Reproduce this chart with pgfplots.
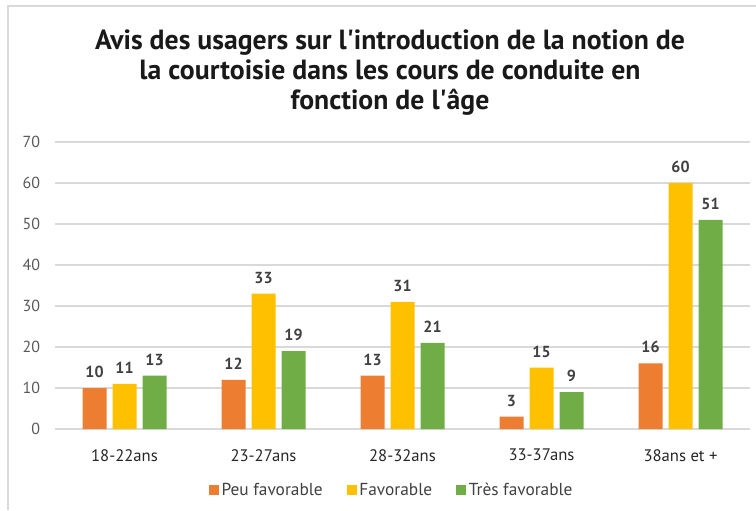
\documentclass[border=0pt]{standalone}
\usepackage{pgfplots}
\pgfplotsset{compat=1.18}
\usepackage{fontspec}
\setmainfont{PT Sans}
\definecolor{cOrange}{HTML}{ED7D31}
\definecolor{cGold}{HTML}{FFC000}
\definecolor{cGreen}{HTML}{70AD47}
\definecolor{gridgray}{HTML}{D9D9D9}
\definecolor{tickgray}{HTML}{595959}
\definecolor{labgray}{HTML}{404040}

\begin{document}
\begin{tikzpicture}[x=0.75pt,y=0.75pt]
\path[use as bounding box] (0,0) rectangle (756,510);
% chart frame (left and top edges visible)
\draw[gray!30, line width=0.9pt] (8,0) -- (8,504) -- (756,504);
\node[align=center, font=\bfseries\fontsize{20.8}{22.5}\selectfont, text=black!90] at (390,437)
  {Avis des usagers sur l\textquotesingle introduction de la notion de\\
   la courtoisie dans les cours de conduite en\\
   fonction de l\textquotesingle âge};

\begin{axis}[
    at={(41.25pt,60.75pt)}, anchor=south west,
    width=521.25pt, height=215.25pt, scale only axis,
    xmin=-0.5, xmax=4.5, ymin=0, ymax=70,
    ytick={0,10,...,70},
    xtick={0,1,2,3,4},
    xticklabels={18-22ans,23-27ans,28-32ans,33-37ans,38ans et +},
    /pgf/number format/assume math mode=true,
    ymajorgrids, grid style={color=gridgray, line width=0.9pt},
    axis line style={draw=none},
    major tick length=0pt,
    yticklabel style={font=\fontsize{12}{14}\selectfont, text=tickgray, inner sep=0pt, xshift=-11pt},
    xticklabel style={font=\fontsize{12.5}{14}\selectfont, text=black!85, inner sep=0pt, yshift=-15pt},
    ybar, bar width=18pt, ybar=4.5pt,
    nodes near coords,
    nodes near coords style={font=\bfseries\fontsize{12}{14}\selectfont, text=labgray, inner sep=0pt, yshift=7.5pt},
    legend style={at={(0.485,-0.2125)}, anchor=center, draw=none, fill=none,
        legend columns=-1, font=\fontsize{13}{15}\selectfont, text=labgray,
        /tikz/every even column/.append style={column sep=16pt}},
    legend image code/.code={\fill[#1] (0pt,-3.75pt) rectangle (7.5pt,3.75pt);},
]
\addplot[fill=cOrange, draw=none] coordinates {(0,10) (1,12) (2,13) (3,3) (4,16)};
\addlegendentry{Peu favorable}
\addplot[fill=cGold, draw=none] coordinates {(0,11) (1,33) (2,31) (3,15) (4,60)};
\addlegendentry{Favorable}
\addplot[fill=cGreen, draw=none] coordinates {(0,13) (1,19) (2,21) (3,9) (4,51)};
\addlegendentry{Très favorable}
\end{axis}
\end{tikzpicture}
\end{document}
